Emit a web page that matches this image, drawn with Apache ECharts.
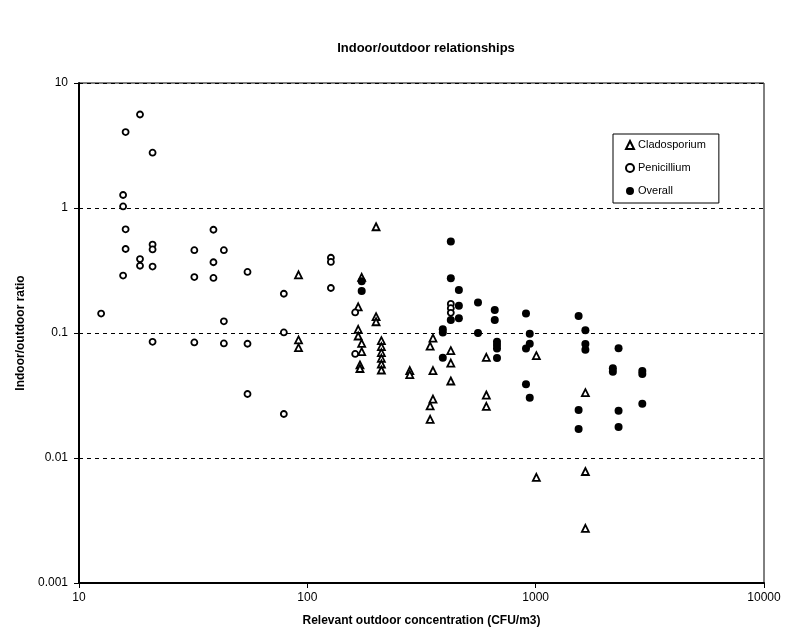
<!DOCTYPE html>
<html>
<head>
<meta charset="utf-8">
<script src="https://cdn.jsdelivr.net/npm/echarts@6/dist/echarts.min.js"></script>
<style>
html,body{margin:0;padding:0;background:#fff;}
#chart{width:785px;height:634px;}
</style>
</head>
<body>
<div id="chart"></div>
<script>
// ---- data ----
var xTicks = [10, 100, 1000, 10000];
var yTicks = [0.001, 0.01, 0.1, 1, 10];

var cladoX = [91.5, 91.5, 91.5, 167, 167, 167, 173, 173, 173, 170, 170, 200, 200, 200,
  211, 211, 211, 211, 211, 211, 281, 281, 345, 345, 345, 355, 355, 355,
  425, 425, 425, 608, 608, 608, 1007, 1007, 1651, 1651, 1651];
var cladoY = [0.292, 0.088, 0.0763, 0.162, 0.107, 0.0946, 0.279, 0.0827, 0.0709, 0.0555, 0.052, 0.708, 0.135, 0.123,
  0.0868, 0.0777, 0.0696, 0.0627, 0.0565, 0.0506, 0.050, 0.0465, 0.0786, 0.0261, 0.0204, 0.0909, 0.050, 0.0296,
  0.0722, 0.0575, 0.0413, 0.0639, 0.0319, 0.0259, 0.0658, 0.0070, 0.0333, 0.0078, 0.00274];

var peniX = [12.5, 15.6, 15.6, 15.6, 16.0, 16.0, 16.0, 18.5, 18.5, 18.5, 21.0, 21.0, 21.0, 21.0, 21.0,
  32, 32, 32, 38.8, 38.8, 38.8, 43.1, 43.1, 43.1, 54.7, 54.7, 54.7, 78.9, 78.9, 78.9,
  126.8, 126.8, 126.8, 162, 162, 425, 425, 425];
var peniY = [0.143, 1.27, 1.03, 0.288, 4.05, 0.675, 0.47, 5.6, 0.39, 0.345, 2.77, 0.51, 0.466, 0.34, 0.085,
  0.46, 0.28, 0.084, 0.67, 0.368, 0.276, 0.46, 0.124, 0.0825, 0.308, 0.082, 0.0325, 0.206, 0.101, 0.0225,
  0.40, 0.37, 0.229, 0.146, 0.068, 0.171, 0.158, 0.145];

var overX = [173, 173, 392, 392, 392, 425, 425, 425, 461, 461, 461, 559, 559, 662, 662,
  677, 677, 677, 677, 907, 907, 907, 942, 942, 942, 1542, 1542, 1542, 1651, 1651, 1651,
  2178, 2178, 2307, 2307, 2307, 2931, 2931, 2931];
var overY = [0.259, 0.217, 0.107, 0.101, 0.0635, 0.54, 0.274, 0.127, 0.221, 0.165, 0.131, 0.175, 0.10, 0.153, 0.127,
  0.085, 0.080, 0.075, 0.063, 0.143, 0.075, 0.0389, 0.0986, 0.082, 0.0304, 0.137, 0.0242, 0.0171, 0.105, 0.0815, 0.0735,
  0.0522, 0.049, 0.0754, 0.0239, 0.0177, 0.0497, 0.047, 0.0272];

var seriesNames = ['Cladosporium', 'Penicillium', 'Overall'];

function pairs(xs, ys) { return xs.map(function (x, i) { return [x, ys[i]]; }); }

var font = 'Arial, "Liberation Sans", Helvetica, sans-serif';
var chart = echarts.init(document.getElementById('chart'), null, { renderer: 'canvas' });

chart.setOption({
  animation: false,
  backgroundColor: '#fff',
  textStyle: { fontFamily: font, color: '#000' },
  title: {
    text: 'Indoor/outdoor relationships',
    left: 421, top: 37, textAlign: 'center',
    textStyle: { fontFamily: font, fontSize: 13, fontWeight: 'bold', color: '#000' }
  },
  grid: {
    left: 79, right: 21, top: 83, bottom: 51,
    show: true, borderColor: '#000', borderWidth: 1, backgroundColor: 'transparent'
  },
  legend: {
    orient: 'vertical',
    left: 613, top: 134,
    width: 107,
    padding: [4, 13, 5, 12],
    itemGap: 9,
    itemWidth: 8, itemHeight: 8,
    borderColor: '#000', borderWidth: 1, backgroundColor: '#fff',
    textStyle: { fontFamily: font, fontSize: 11, color: '#000', lineHeight: 14, padding: [0, 0, 0, -1] },
    data: seriesNames
  },
  xAxis: {
    type: 'log', logBase: 10, min: xTicks[0], max: xTicks[xTicks.length - 1],
    name: 'Relevant outdoor concentration (CFU/m3)',
    nameLocation: 'middle', nameGap: 32,
    nameTextStyle: { fontFamily: font, fontSize: 12, fontWeight: 'bold', color: '#000' },
    axisLine: { show: true, lineStyle: { color: '#000', width: 2 } },
    axisTick: { show: true, inside: false, length: 5, lineStyle: { color: '#000', width: 1 } },
    axisLabel: { fontFamily: font, fontSize: 12, color: '#000', margin: 9,
      formatter: function (v) { return String(Math.round(v)); } },
    splitLine: { show: false },
    minorTick: { show: false }
  },
  yAxis: {
    type: 'log', logBase: 10, min: yTicks[0], max: yTicks[yTicks.length - 1],
    name: 'Indoor/outdoor ratio',
    nameLocation: 'middle', nameGap: 50,
    nameTextStyle: { fontFamily: font, fontSize: 12, fontWeight: 'bold', color: '#000' },
    axisLine: { show: true, lineStyle: { color: '#000', width: 2 } },
    axisTick: { show: true, inside: false, length: 5, lineStyle: { color: '#000', width: 1 } },
    axisLabel: { fontFamily: font, fontSize: 12, color: '#000', margin: 11,
      formatter: function (v) {
        var t = yTicks.reduce(function (best, c) { return Math.abs(Math.log10(c) - Math.log10(v)) < Math.abs(Math.log10(best) - Math.log10(v)) ? c : best; }, yTicks[0]);
        return String(t);
      } },
    splitLine: { show: true, lineStyle: { color: '#000', width: 1, type: [4, 4] } }
  },
  series: [
    {
      name: seriesNames[0], type: 'scatter', symbol: 'triangle', symbolSize: 7,
      itemStyle: { color: '#fff', borderColor: '#000', borderWidth: 1.8, opacity: 1 },
      data: pairs(cladoX, cladoY), z: 2
    },
    {
      name: seriesNames[1], type: 'scatter', symbol: 'circle', symbolSize: 6,
      itemStyle: { color: '#fff', borderColor: '#000', borderWidth: 1.8, opacity: 1 },
      data: pairs(peniX, peniY), z: 3
    },
    {
      name: seriesNames[2], type: 'scatter', symbol: 'circle', symbolSize: 8,
      itemStyle: { color: '#000', borderColor: '#000', borderWidth: 0, opacity: 1 },
      data: pairs(overX, overY), z: 4
    }
  ]
});
</script>
</body>
</html>
